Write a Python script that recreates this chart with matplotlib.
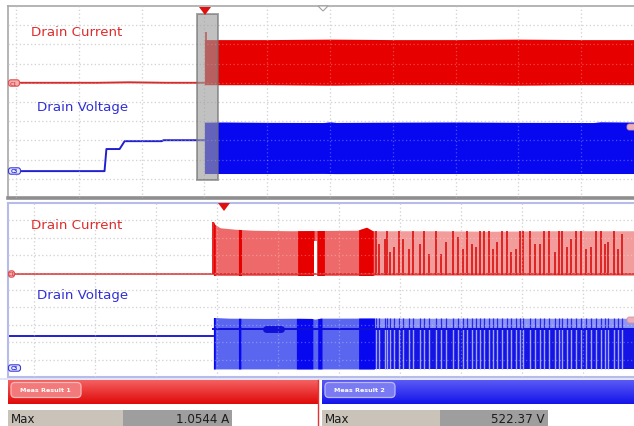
import matplotlib
matplotlib.use("Agg")
import matplotlib.pyplot as plt
import numpy as np
from matplotlib.patches import Rectangle, FancyBboxPatch, Polygon

W, H = 634, 427

# ---------------- channel settings (screen divisions) ----------------
OV_I_SCALE, OV_I_POS = 0.40, 1.0      # A/div, offset div (overview)
OV_V_SCALE, OV_V_POS = 200.0, -3.6    # V/div
ZM_I_SCALE, ZM_I_POS = 0.35, 0.92     # zoom window
ZM_V_SCALE, ZM_V_POS = 180.0, -4.48

# zoom window inside the overview record (div, trigger at 0)
ZOOM_WIN = (-0.11, 0.22)

# ---------------- overview record (time in div) ----------------
ov_i_pre_t = [-3.3, -1.7, -1.2, -0.6, 0.0]
ov_i_pre = [0.0, 0.0, 0.01, 0.0, 0.0]
ov_i_peak_t = 0.02
ov_i_peak = 1.0544
ov_i_band_t = [0.0, 1.0, 2.0, 3.0, 4.0, 5.0, 6.0, 7.0]
ov_i_band_hi = [0.90, 0.90, 0.91, 0.90, 0.90, 0.91, 0.90, 0.90]
ov_i_band_lo = [-0.04, -0.04, -0.05, -0.04, -0.04, -0.05, -0.04, -0.04]

ov_v_pre_t = [-3.3, -1.59, -1.56, -1.35, -1.27, -0.68, -0.65, 0.0]
ov_v_pre = [0.0, 0.0, 230.0, 230.0, 312.0, 312.0, 322.0, 322.0]
ov_v_band_t = [0.0, 0.3, 1.0, 1.9, 2.0, 2.1, 3.0, 4.0, 5.0, 6.2, 6.3, 7.0]
ov_v_band_hi = [510, 512, 508, 506, 514, 507, 510, 512, 508, 506, 514, 510]
ov_v_band_lo = [-25, -25, -25, -24, -25, -26, -25, -25, -24, -25, -25, -25]

# ---------------- zoomed record (time in div) ----------------
zm_start = -0.06
zm_mode_change = 2.58
zm_end = 7.0
zm_i_env_t = [-0.06, -0.04, 0.05, 0.3, 0.6, 1.2, 2.3, 2.45, 2.55, 3.5, 4.5, 5.5, 7.0]
zm_i_env_hi = [1.0544, 1.0, 0.93, 0.90, 0.88, 0.87, 0.88, 0.94, 0.87, 0.87, 0.86, 0.87, 0.87]
zm_i_lo = -0.03
zm_i_dense = [(-0.06, -0.03), (0.35, 0.40), (1.32, 1.59), (1.64, 1.76), (2.32, 2.56)]
zm_i_gap = [(1.59, 1.63)]
zm_i_pulse_t = [2.60, 2.66, 2.75, 2.79, 2.84, 2.90, 2.98, 3.05, 3.14, 3.22, 3.32, 3.40,
                3.48, 3.59, 3.67, 3.76, 3.86, 3.95, 4.03, 4.10, 4.18, 4.25, 4.31, 4.38,
                4.46, 4.52, 4.59, 4.67, 4.75, 4.82, 4.90, 4.96, 5.02, 5.13, 5.21, 5.29,
                5.36, 5.44, 5.54, 5.60, 5.65, 5.73, 5.81, 5.89, 5.97, 6.05, 6.13, 6.21,
                6.29, 6.36, 6.41, 6.50, 6.58, 6.64]
zm_i_pulse = [0.87, 0.60, 0.70, 0.87, 0.45, 0.55, 0.87, 0.70, 0.50, 0.87, 0.60, 0.87,
              0.40, 0.87, 0.40, 0.65, 0.87, 0.75, 0.50, 0.87, 0.60, 0.55, 0.87, 0.87,
              0.87, 0.50, 0.65, 0.87, 0.87, 0.45, 0.50, 0.87, 0.87, 0.87, 0.60, 0.60,
              0.87, 0.87, 0.45, 0.87, 0.87, 0.55, 0.70, 0.87, 0.87, 0.50, 0.55, 0.87,
              0.87, 0.60, 0.65, 0.87, 0.50, 0.80]

zm_v_pre_t = [-3.5, -0.06]
zm_v_pre = [331.0, 331.0]
zm_v_env_t = [-0.06, 0.2, 0.8, 1.2, 1.55, 1.6, 1.7, 2.6, 3.5, 4.5, 5.5, 7.0]
zm_v_env_hi = [522.37, 515, 512, 514, 512, 505, 515, 516, 514, 515, 514, 514]
zm_v_lo = -10.0
zm_v_plateau = 403.0
zm_v_plateau_blob = (0.80, 1.04)
zm_v_dense = [(-0.06, -0.03), (0.35, 0.39), (1.30, 1.57), (1.65, 1.72), (2.32, 2.58)]
zm_v_stripe_t = zm_i_pulse_t

# ---------------- measurements ----------------
meas_labels = ["Meas Result 1", "Meas Result 2"]
meas_names = ["Max", "Max"]
meas_values = ["1.0544 A", "522.37 V"]

# ---------------- figure ----------------
fig = plt.figure(figsize=(W / 100, H / 100), dpi=100)
fig.patch.set_facecolor("white")


def px_axes(x0, y0, x1, y1):
    return fig.add_axes([x0 / W, 1 - y1 / H, (x1 - x0) / W, (y1 - y0) / H])


GRID = "#c4c4c4"


def scope_axes(ax, t0_px, px_per_div, x0, x1, edge, lw):
    ax.set_xlim((x0 - t0_px) / px_per_div, (x1 - t0_px) / px_per_div)
    ax.set_ylim(-5, 5)
    ax.set_xticks(range(-3, 8))
    ax.set_yticks(range(-4, 5))
    ax.tick_params(length=0, labelbottom=False, labelleft=False)
    ax.grid(True, color=GRID, linestyle=(0, (1, 2)), linewidth=0.9)
    ax.set_axisbelow(True)
    for s in ax.spines.values():
        s.set_color(edge)
        s.set_linewidth(lw)


def grid_on_top(ax):
    """Faint copy of the graticule drawn over the traces."""
    x0, x1 = ax.get_xlim()
    for x in ax.get_xticks():
        ax.axvline(x, color="white", alpha=0.28, lw=0.9, ls=(0, (1, 2)), zorder=4)
    for y in ax.get_yticks():
        ax.axhline(y, color="white", alpha=0.28, lw=0.9, ls=(0, (1, 2)), zorder=4)
    ax.set_xlim(x0, x1)


def span_fill(ax, a, b, env_t, lo, hi, **kw):
    """Fill between lo/hi over [a, b]; lo and hi may be scalars or envelopes."""
    env_t = np.asarray(env_t, float)
    tt = np.concatenate([[a], env_t[(env_t > a) & (env_t < b)], [b]])
    f = lambda v: np.interp(tt, env_t, v) if np.ndim(v) else np.full_like(tt, v)
    ax.fill_between(tt, f(lo), f(hi), lw=0, **kw)


RED, RED_LINE = "#e60000", "#d42a2a"
BLUE, BLUE_LINE = "#0808f0", "#2020d0"

# ===== overview panel =====
ax1 = px_axes(8, 7, 644, 199)
scope_axes(ax1, 205, 63, 8, 644, "#a8a8a8", 1.2)
ax1.spines["bottom"].set_linewidth(2.6)
ax1.spines["bottom"].set_color("#8e8e8e")

iy = lambda a: np.asarray(a) / OV_I_SCALE + OV_I_POS
vy = lambda v: np.asarray(v) / OV_V_SCALE + OV_V_POS

ax1.plot(ov_i_pre_t, iy(ov_i_pre), color=RED_LINE, lw=1.4)
ax1.fill_between(ov_i_band_t, iy(ov_i_band_lo), iy(ov_i_band_hi), color=RED, lw=0)
ax1.vlines(ov_i_peak_t, iy(0), iy(ov_i_peak), color=RED, lw=1.2)
ax1.plot(ov_v_pre_t, vy(ov_v_pre), color=BLUE_LINE, lw=1.4)
ax1.fill_between(ov_v_band_t, vy(ov_v_band_lo), vy(ov_v_band_hi), color=BLUE, lw=0)
grid_on_top(ax1)

# zoom window marker
ax1.add_patch(Rectangle((ZOOM_WIN[0], 5 - (15 - 7) / 19.2), ZOOM_WIN[1] - ZOOM_WIN[0],
                        -(181 - 15) / 19.2, facecolor="#9c9c9c", alpha=0.62,
                        edgecolor="#6e6e6e", lw=1.4, zorder=5))

# ===== zoom panel =====
ax2 = px_axes(8, 204, 644, 378)
scope_axes(ax2, 224, 63, 8, 644, "#b6bbea", 1.5)

zi = lambda a: np.asarray(a) / ZM_I_SCALE + ZM_I_POS
zv = lambda v: np.asarray(v) / ZM_V_SCALE + ZM_V_POS
I_hi = zi(zm_i_env_hi)
V_hi = zv(zm_v_env_hi)

# current
ax2.plot([-3.6, zm_end], zi([0, 0]), color=RED_LINE, lw=1.1)
span_fill(ax2, zm_start, zm_mode_change, zm_i_env_t, zi(zm_i_lo), I_hi, color="#ee6a6a")
span_fill(ax2, zm_mode_change, zm_end, zm_i_env_t, zi(zm_i_lo), I_hi, color="#f39c9c")
for a, b in zm_i_dense:
    span_fill(ax2, a, b, zm_i_env_t, zi(zm_i_lo), I_hi, color=RED)
for a, b in zm_i_gap:
    ax2.axvspan(a, b, ymin=0.45, ymax=0.78, color="white", lw=0)
ax2.vlines(zm_i_pulse_t, zi(zm_i_lo), zi(zm_i_pulse), color="#dc1c1c", lw=1.3)
ax2.vlines(zm_start, zi(0), zi(1.0544), color=RED, lw=1.2)

# voltage
ax2.plot(zm_v_pre_t, zv(zm_v_pre), color=BLUE_LINE, lw=1.4)
span_fill(ax2, zm_start, zm_mode_change, zm_v_env_t, zv(zm_v_lo), V_hi, color="#5a66f0")
span_fill(ax2, zm_mode_change, zm_end, zm_v_env_t, zv(zm_v_lo), zv(zm_v_plateau), color="#1414e4")
span_fill(ax2, zm_mode_change, zm_end, zm_v_env_t, zv(zm_v_plateau), V_hi, color="#8e96f5")
for a, b in zm_v_dense:
    span_fill(ax2, a, b, zm_v_env_t, zv(zm_v_lo), V_hi, color=BLUE)
hi_v = np.interp(zm_v_stripe_t, zm_v_env_t, zm_v_env_hi)
ax2.vlines(zm_v_stripe_t, zv(zm_v_lo), zv(zm_v_plateau), color="#a0a6f6", lw=1.0)
ax2.vlines(zm_v_stripe_t, zv(zm_v_plateau), zv(hi_v), color="#2a2ae6", lw=0.9)
ax2.plot([zm_start, zm_end], zv([zm_v_plateau] * 2), color="#1010d8", lw=1.4)
ax2.plot(zm_v_plateau_blob, zv([zm_v_plateau] * 2), color="#1010d8", lw=5,
         solid_capstyle="round")
grid_on_top(ax2)

# ===== overlay in pixel coordinates =====
ov = fig.add_axes([0, 0, 1, 1], zorder=10)
ov.set_xlim(0, W)
ov.set_ylim(H, 0)
ov.axis("off")
ov.patch.set_alpha(0)

# trace titles
for y, c, txt, x in [(33, "#de2c2c", "Drain Current", 31), (108, "#3030d6", "Drain Voltage", 37),
                     (226, "#de2c2c", "Drain Current", 31), (296, "#3030d6", "Drain Voltage", 37)]:
    ov.text(x, y, txt, color=c, fontsize=9.6, va="center", ha="left", family="DejaVu Sans")

# trigger markers
for x, y in [(205, 8), (224, 204)]:
    ov.add_patch(Polygon([[x - 6, y], [x + 6, y], [x, y + 8]], closed=True, color="#e01010", lw=0))
ov.add_patch(Polygon([[318, 7], [328, 7], [323, 12]], closed=True, facecolor="white",
                     edgecolor="#a0a0a0", lw=0.8))


# channel offset markers
def chan_tag(y, fc, ec, txt, w=11):
    ov.add_patch(FancyBboxPatch((8.5, y - 3.2), w, 6.4, boxstyle="round,pad=0,rounding_size=2.5",
                                facecolor=fc, edgecolor=ec, lw=0.8))
    ov.text(8.5 + w / 2, y, txt, color=ec, fontsize=3.8, ha="center", va="center",
            fontweight="bold")


chan_tag(84, "#f2b0b0", "#e05050", "C1")
chan_tag(275, "#f2b0b0", "#e05050", "C1", w=6)
chan_tag(172, "#e6e8ff", "#3a3ad8", "C3", w=12)
chan_tag(369, "#e6e8ff", "#3a3ad8", "C3", w=12)
for y in (128, 321):
    ov.add_patch(FancyBboxPatch((627, y - 3), 10, 6, boxstyle="round,pad=0,rounding_size=2.5",
                                facecolor="#eab0bc", edgecolor="#d890a0", lw=0.6))

# lavender rule under zoom panel
ov.plot([0, W], [379.5, 379.5], color="#dcdff5", lw=1.2)


# measurement panels
def gradient(x0, x1, y0, y1, top, bottom):
    c0 = np.array(matplotlib.colors.to_rgb(top))
    c1 = np.array(matplotlib.colors.to_rgb(bottom))
    g = np.linspace(0, 1, 32)[:, None, None]
    img = c0 * (1 - g) + c1 * g
    ov.imshow(np.repeat(img, 2, axis=1), extent=[x0, x1, y1, y0], aspect="auto",
              interpolation="bilinear", zorder=1)


panels = [(8, 318, "#f46060", "#e00a0a", "#f27a7a", "#f8b8b8", 123, 232),
          (322, 634, "#5a5af6", "#1414ea", "#7a7af2", "#b8b8f8", 440, 548)]
for k, (x0, x1, ctop, cbot, tabc, tabe, gx0, gx1) in enumerate(panels):
    gradient(x0, x1, 381, 405, ctop, cbot)
    ov.add_patch(FancyBboxPatch((x0 + 3, 383.5), 70, 15, boxstyle="round,pad=0,rounding_size=4",
                                facecolor=tabc, edgecolor=tabe, lw=0.9, zorder=2))
    ov.text(x0 + 12, 391, meas_labels[k], color="white", fontsize=4.6, fontweight="bold",
            va="center", ha="left", zorder=3)
    ov.add_patch(Rectangle((x0, 411), gx0 - x0, 16, facecolor="#c9c3b9", lw=0, zorder=2))
    ov.add_patch(Rectangle((gx0, 411), gx1 - gx0, 16, facecolor="#9e9e9e", lw=0, zorder=2))
    ov.text(x0 + 3, 419.5, meas_names[k], fontsize=8.6, color="#1c1c1c", va="center", zorder=3)
    ov.text(gx1 - 3, 419.5, meas_values[k], fontsize=8.6, color="#1c1c1c", va="center",
            ha="right", zorder=3)
ov.plot([317.5, 317.5], [381, 427], color="#e83030", lw=1.0, zorder=3)

fig.savefig("out.png", dpi=100)
